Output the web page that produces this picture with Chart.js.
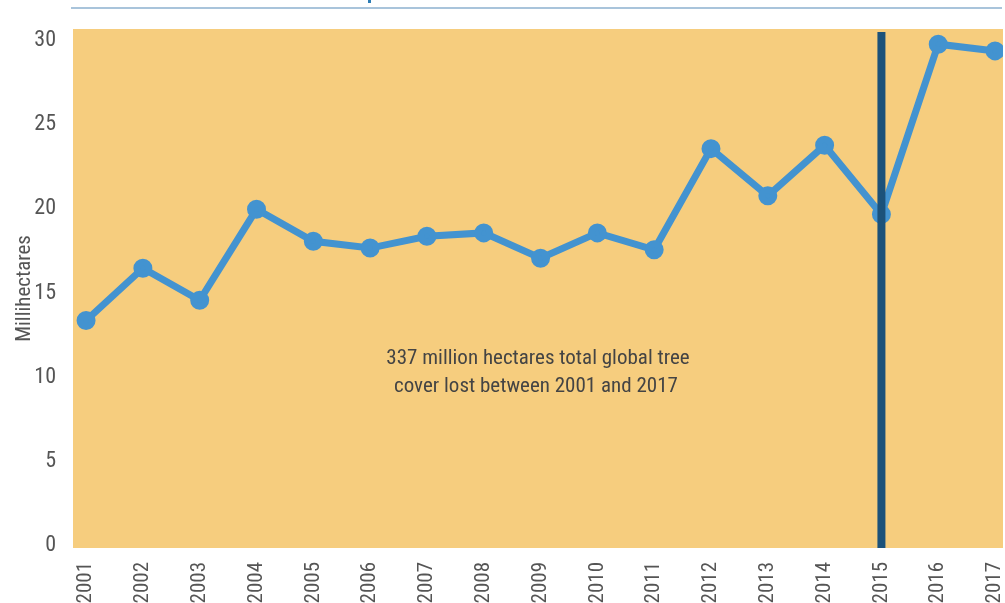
<!DOCTYPE html>
<html>
<head>
<meta charset="utf-8">
<script src="https://cdn.jsdelivr.net/npm/chart.js@4.4.1/dist/chart.umd.min.js"></script>
<style>
    html, body { margin: 0; padding: 0; background: #fff; }
    #wrap { width: 1005px; height: 603px; position: relative; }
</style>
</head>
<body>
<div id="wrap"><canvas id="loss-chart" width="1005" height="603"></canvas></div>
<script>
const years = [2001, 2002, 2003, 2004, 2005, 2006, 2007, 2008, 2009, 2010, 2011, 2012, 2013, 2014, 2015, 2016, 2017];
const treeCoverLoss = [13.2, 16.3, 14.4, 19.8, 17.9, 17.5, 18.2, 18.4, 16.9, 18.4, 17.4, 23.4, 20.6, 23.6, 19.5, 29.6, 29.2];
const yTicks = [0, 5, 10, 15, 20, 25, 30];
const markerYear = 2015;
const noteLines = ['337 million hectares total global tree', 'cover lost between 2001 and 2017'];

const FONT = '"Roboto Condensed", "Liberation Sans Narrow", sans-serif';

const backdrop = {
    id: 'backdrop',
    beforeDraw(chart) {
        const { ctx, chartArea: a } = chart;
        ctx.save();
        ctx.fillStyle = '#F6CD7E';
        ctx.fillRect(a.left, a.top, a.right - a.left, a.bottom - a.top);
        // thin rule across the top
        ctx.fillStyle = '#A9C4DB';
        ctx.fillRect(71, 7, 931, 2);
        ctx.fillStyle = '#2E7DB5';
        ctx.fillRect(368, 0, 3, 3);
        ctx.restore();
    },
    afterDatasetsDraw(chart) {
        const { ctx, chartArea: a, scales } = chart;
        const x = scales.x.getPixelForValue(markerYear);
        ctx.save();
        ctx.fillStyle = '#1C527A';
        ctx.fillRect(x - 4, a.top + 3, 8, a.bottom - a.top - 3);

        ctx.fillStyle = '#444';
        ctx.font = '21px ' + FONT;
        ctx.textAlign = 'center';
        ctx.textBaseline = 'middle';
        ctx.fillText(noteLines[0], 538, 359);
        ctx.fillText(noteLines[1], 536, 387);
        ctx.restore();
    },
};

new Chart(document.getElementById('loss-chart'), {
    type: 'line',
    data: {
        datasets: [{
            data: years.map((y, i) => ({ x: y, y: treeCoverLoss[i] })),
            borderColor: '#4393D0',
            backgroundColor: '#4393D0',
            borderWidth: 7,
            pointRadius: 6,
            pointHoverRadius: 6,
            tension: 0,
        }],
    },
    options: {
        responsive: false,
        animation: false,
        layout: { autoPadding: false, padding: { top: 29, right: 2, left: 0, bottom: 0 } },
        plugins: {
            legend: { display: false },
            tooltip: { enabled: false },
        },
        scales: {
            x: {
                type: 'linear',
                min: 2000.77,
                max: 2017.14,
                grid: { display: false },
                border: { display: false },
                afterBuildTicks(scale) {
                    scale.ticks = years.map(v => ({ value: v }));
                },
                afterFit(scale) {
                    scale.height = 55;
                    scale.paddingLeft = 0;
                    scale.paddingRight = 0;
                },
                ticks: {
                    autoSkip: false,
                    minRotation: 90,
                    maxRotation: 90,
                    padding: 6,
                    color: '#555',
                    font: { family: FONT, size: 21 },
                    callback: v => String(v),
                },
            },
            y: {
                min: -0.3,
                max: 30.5,
                grid: { display: false },
                border: { display: false },
                afterBuildTicks(scale) {
                    scale.ticks = yTicks.map(v => ({ value: v }));
                },
                afterFit(scale) {
                    scale.width = 73;
                    scale.paddingTop = 0;
                    scale.paddingBottom = 0;
                },
                title: {
                    display: true,
                    text: 'Millihectares',
                    color: '#555',
                    font: { family: FONT, size: 21 },
                    padding: { top: 12, bottom: 0 },
                },
                ticks: {
                    padding: 9,
                    labelOffset: 3,
                    color: '#555',
                    font: { family: FONT, size: 22 },
                },
            },
        },
    },
    plugins: [backdrop],
});
</script>
</body>
</html>
